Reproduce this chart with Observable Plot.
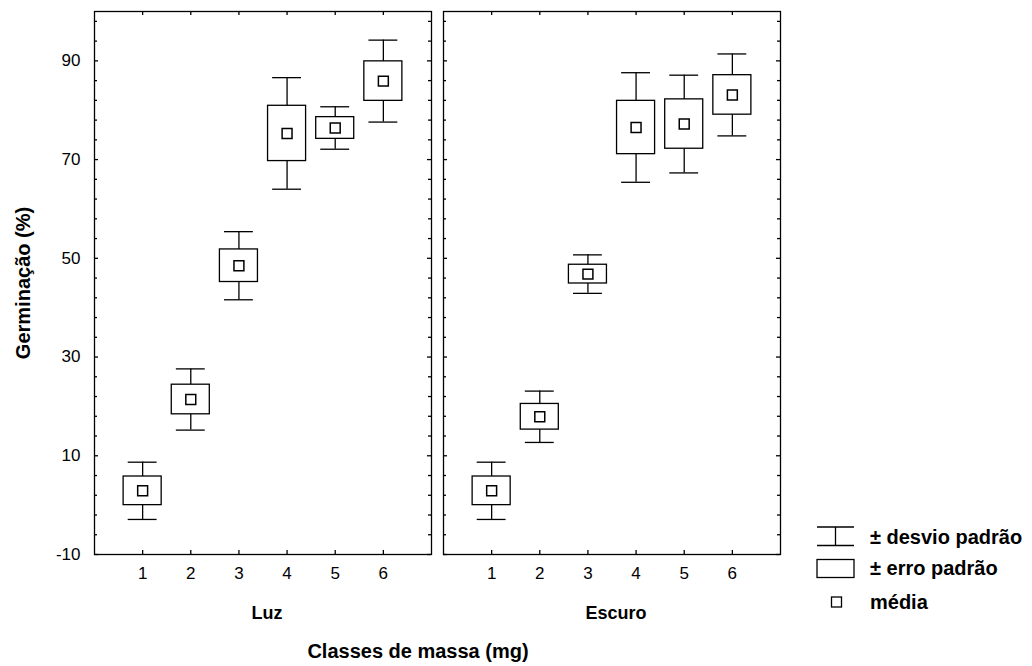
<!DOCTYPE html>
<html><head><meta charset="utf-8">
<script src="https://cdn.jsdelivr.net/npm/d3@7"></script>
<script src="https://cdn.jsdelivr.net/npm/@observablehq/plot@0.6"></script>
<style>
body{margin:0;background:#fff;font-family:"Liberation Sans",Arial,sans-serif;}
#wrap{position:relative;width:1032px;height:666px;}
#legend{position:absolute;left:0;top:0;}
</style></head><body><div id="wrap"></div>
<script>
const panels = ["Luz", "Escuro"];
const classes = [1, 2, 3, 4, 5, 6];
const luzMean = [2.9, 21.4, 48.5, 75.3, 76.4, 85.9];
const luzSE   = [2.9, 3.0, 3.3, 5.6, 2.2, 4.0];
const luzSD   = [5.8, 6.2, 6.9, 11.3, 4.3, 8.3];
const escMean = [2.9, 17.9, 46.8, 76.5, 77.2, 83.1];
const escSE   = [2.9, 2.6, 1.9, 5.4, 5.0, 4.0];
const escSD   = [5.8, 5.2, 3.9, 11.1, 9.9, 8.3];
const yMajor = [-10, 10, 30, 50, 70, 90];
const yMinor = [-6, -2, 2, 6, 14, 18, 22, 26, 34, 38, 42, 46, 54, 58, 62, 66, 74, 78, 82, 86, 94, 98];
const yTitle = "Germinação (%)";
const xTitle = "Classes de massa (mg)";
const legendLabels = ["± desvio padrão", "± erro padrão", "média"];

const rows = [];
classes.forEach((c, i) => {
  rows.push({panel: "Luz", cls: c, mean: luzMean[i], se: luzSE[i], sd: luzSD[i]});
});
classes.forEach((c, i) => {
  rows.push({panel: "Escuro", cls: c, mean: escMean[i], se: escSE[i], sd: escSD[i]});
});

const FONT = "'Liberation Sans', Arial, sans-serif";
const FW = 337, FH = 543;
const sw = 1.3;
const chart = Plot.plot({
  width: 1032, height: 666,
  marginLeft: 94, marginRight: 252, marginTop: 11, marginBottom: 112,
  style: {fontFamily: FONT, fontSize: "16px", color: "#000", background: "#fff"},
  fx: {domain: panels, paddingInner: 12 / 349, paddingOuter: 0, align: 0},
  x: {domain: [0, 7]},
  y: {domain: [-10, 100]},
  marks: [
    Plot.frame({stroke: "#000", strokeWidth: sw}),
    // inward ticks
    Plot.tickY(yMajor, {y: d => d, insetRight: FW - 4, stroke: "#000", strokeWidth: sw}),
    Plot.tickY(yMajor, {y: d => d, insetLeft: FW - 4, stroke: "#000", strokeWidth: sw}),
    Plot.tickY(yMinor, {y: d => d, insetRight: FW - 3, stroke: "#000", strokeWidth: sw}),
    Plot.tickY(yMinor, {y: d => d, insetLeft: FW - 3, stroke: "#000", strokeWidth: sw}),
    Plot.tickX(classes, {x: d => d, insetTop: FH - 4, stroke: "#000", strokeWidth: sw}),
    Plot.tickX(classes, {x: d => d, insetBottom: FH - 4, stroke: "#000", strokeWidth: sw}),
    // whiskers (± desvio padrão)
    Plot.ruleX(rows, {fx: "panel", x: "cls", y1: d => d.mean - d.sd, y2: d => d.mean + d.sd, stroke: "#000", strokeWidth: sw}),
    Plot.ruleY(rows, {fx: "panel", y: d => d.mean + d.sd, x1: d => d.cls - 0.3, x2: d => d.cls + 0.3, stroke: "#000", strokeWidth: sw}),
    Plot.ruleY(rows, {fx: "panel", y: d => d.mean - d.sd, x1: d => d.cls - 0.3, x2: d => d.cls + 0.3, stroke: "#000", strokeWidth: sw}),
    // boxes (± erro padrão)
    Plot.rect(rows, {fx: "panel", x1: d => d.cls - 0.395, x2: d => d.cls + 0.395, y1: d => d.mean - d.se, y2: d => d.mean + d.se, fill: "#fff", stroke: "#000", strokeWidth: sw}),
    // means
    Plot.dot(rows, {fx: "panel", x: "cls", y: "mean", symbol: "square", r: 5.6, fill: "#fff", stroke: "#000", strokeWidth: 1.5}),
    // axes
    Plot.axisY(yMajor, {tickSize: 0, tickPadding: 14, fontSize: 17, tickFormat: d => String(d), label: null}),
    Plot.axisY([], {tickSize: 0, fontSize: 20, fontWeight: "bold", label: yTitle, labelAnchor: "center", labelOffset: 79, labelArrow: false}),
    Plot.axisX(classes, {tickSize: 0, tickPadding: 12, fontSize: 17, label: null}),
    Plot.axisFx({anchor: "bottom", tickSize: 0, tickPadding: 52, fontSize: 18, fontWeight: "bold", dx: 4, label: null}),
    Plot.text([xTitle], {fx: () => "Luz", text: d => d, frameAnchor: "bottom", dx: 155, dy: 103, fontSize: 20, fontWeight: "bold", fill: "#000"})
  ]
});
document.getElementById("wrap").appendChild(chart);

// legend (symbols + real text)
const ns = "http://www.w3.org/2000/svg";
const lg = document.createElementNS(ns, "svg");
lg.setAttribute("id", "legend");
lg.setAttribute("width", 1032); lg.setAttribute("height", 666);
lg.style.pointerEvents = "none";
const lgParts = [
  ["line", {x1: 817, x2: 854, y1: 527, y2: 527}],
  ["line", {x1: 817, x2: 854, y1: 545.5, y2: 545.5}],
  ["line", {x1: 835.5, x2: 835.5, y1: 527, y2: 545.5}],
  ["rect", {x: 817, y: 559.5, width: 37, height: 18}],
  ["rect", {x: 831.5, y: 597, width: 10, height: 10}]
];
lgParts.forEach(([tag, attrs]) => {
  const el = document.createElementNS(ns, tag);
  Object.entries(attrs).forEach(([k, v]) => el.setAttribute(k, v));
  el.setAttribute("stroke", "#000"); el.setAttribute("stroke-width", sw); el.setAttribute("fill", "#fff");
  lg.appendChild(el);
});
const lgY = [537, 568, 602];
legendLabels.forEach((t, i) => {
  const tx = document.createElementNS(ns, "text");
  tx.setAttribute("x", 870); tx.setAttribute("y", lgY[i]);
  tx.setAttribute("dy", "0.35em");
  tx.setAttribute("font-family", FONT);
  tx.setAttribute("font-size", 20); tx.setAttribute("font-weight", "bold");
  tx.textContent = t;
  lg.appendChild(tx);
});
document.getElementById("wrap").appendChild(lg);
</script>
</body></html>
